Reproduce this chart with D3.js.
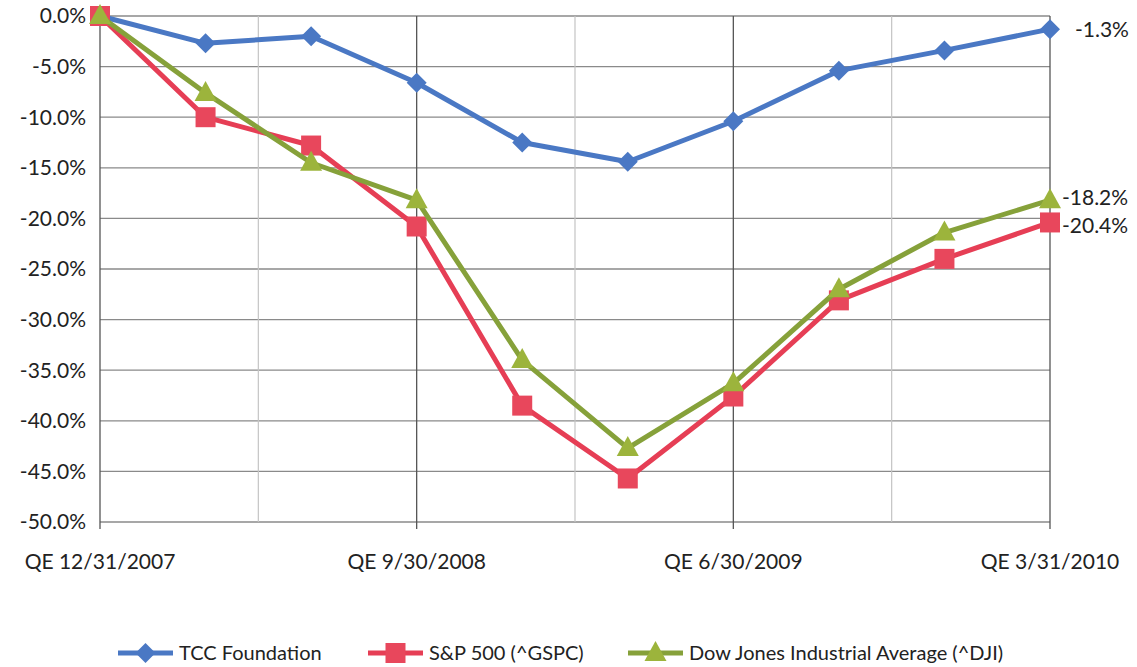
<!DOCTYPE html>
<html>
<head>
<meta charset="utf-8">
<script src="https://cdn.jsdelivr.net/npm/d3@7"></script>
<style>
  body { margin: 0; background: #fff; }
  svg { display: block; font-family: Lato, "Open Sans", sans-serif; }
</style>
</head>
<body>
<svg id="chart"></svg>
<script>
const quarters = ["QE 12/31/2007", "QE 3/31/2008", "QE 6/30/2008", "QE 9/30/2008", "QE 12/31/2008",
  "QE 3/31/2009", "QE 6/30/2009", "QE 9/30/2009", "QE 12/31/2009", "QE 3/31/2010"];
const tccValues = [0, -2.7, -2.0, -6.6, -12.5, -14.4, -10.4, -5.4, -3.4, -1.3];
const spValues  = [0, -10.0, -12.8, -20.8, -38.5, -45.7, -37.6, -28.1, -24.0, -20.4];
const djiValues = [0, -7.6, -14.5, -18.2, -34.0, -42.7, -36.3, -27.0, -21.4, -18.2];
const yTicks = [0, -5, -10, -15, -20, -25, -30, -35, -40, -45, -50];

const width = 1137, height = 667;
const margin = {left: 100, right: 1050, top: 16, bottom: 522};

const series = [
  {name: "TCC Foundation", values: tccValues, color: "#4a78c4", fill: "#4a78c4", marker: "diamond", labelDx: 25, labelDy: 0},
  {name: "S&P 500 (^GSPC)", values: spValues, color: "#e63e55", fill: "#e8475c", marker: "square", labelDx: 12, labelDy: 3},
  {name: "Dow Jones Industrial Average (^DJI)", values: djiValues, color: "#86a13a", fill: "#9cb43c", marker: "triangle", labelDx: 12, labelDy: -3}
];

// plain hyphen minus like the original
const pct = d3.formatLocale({decimal: ".", thousands: ",", grouping: [3], currency: ["", ""], minus: "-"}).format(".1f");

const svg = d3.select("#chart").attr("width", width).attr("height", height);
svg.append("rect").attr("width", width).attr("height", height).attr("fill", "#fff");

const x = d3.scalePoint().domain(quarters).range([margin.left, margin.right]);
const y = d3.scaleLinear().domain([-50, 0]).range([margin.bottom, margin.top]);
const step = x.step();

// horizontal gridlines
svg.append("g").selectAll("line").data(yTicks).join("line")
  .attr("x1", margin.left).attr("x2", margin.right)
  .attr("y1", d => y(d)).attr("y2", d => y(d))
  .attr("stroke", "#8a8a8a").attr("stroke-width", 1.3);

// minor vertical gridlines (midway between labelled ticks)
const majorIdx = quarters.map((q, i) => i).filter(i => i % 3 === 0);
svg.append("g").selectAll("line").data(majorIdx.slice(0, -1)).join("line")
  .attr("x1", i => x(quarters[i]) + step * 1.5).attr("x2", i => x(quarters[i]) + step * 1.5)
  .attr("y1", margin.top).attr("y2", margin.bottom)
  .attr("stroke", "#c4c4c4").attr("stroke-width", 1.2);

// major vertical gridlines with tick marks
svg.append("g").selectAll("line").data(majorIdx).join("line")
  .attr("x1", i => x(quarters[i])).attr("x2", i => x(quarters[i]))
  .attr("y1", margin.top).attr("y2", margin.bottom + 7)
  .attr("stroke", "#555").attr("stroke-width", 1.3);

// y axis labels
svg.append("g").selectAll("text").data(yTicks).join("text")
  .attr("x", 86).attr("y", d => y(d)).attr("dy", "0.35em")
  .attr("text-anchor", "end").attr("font-size", 21).attr("fill", "#222")
  .text(d => pct(d) + "%");

// x axis labels
svg.append("g").selectAll("text").data(majorIdx).join("text")
  .attr("x", i => x(quarters[i])).attr("y", 569)
  .attr("text-anchor", "middle").attr("font-size", 21).attr("fill", "#222")
  .text(i => quarters[i]);

function drawMarker(g, type, cx, cy, fill) {
  if (type === "diamond") {
    g.append("path").attr("d", `M${cx},${cy - 10}L${cx + 10},${cy}L${cx},${cy + 10}L${cx - 10},${cy}Z`).attr("fill", fill);
  } else if (type === "square") {
    g.append("rect").attr("x", cx - 10).attr("y", cy - 10).attr("width", 20).attr("height", 20).attr("fill", fill);
  } else {
    g.append("path").attr("d", `M${cx},${cy - 12}L${cx + 11},${cy + 8}L${cx - 11},${cy + 8}Z`).attr("fill", fill);
  }
}

const line = d3.line().x((d, i) => x(quarters[i])).y(d => y(d));

series.forEach(s => {
  const g = svg.append("g");
  g.append("path").datum(s.values).attr("d", line)
    .attr("fill", "none").attr("stroke", s.color).attr("stroke-width", 5)
    .attr("stroke-linejoin", "round");
  s.values.forEach((v, i) => drawMarker(g, s.marker, x(quarters[i]), y(v), s.fill));
  const last = s.values[s.values.length - 1];
  g.append("text")
    .attr("x", x(quarters[quarters.length - 1]) + s.labelDx).attr("y", y(last) + s.labelDy).attr("dy", "0.35em")
    .attr("font-size", 21).attr("fill", "#222")
    .text(pct(last) + "%");
});

// legend
const legendX = [118, 368, 628];
series.forEach((s, i) => {
  const g = svg.append("g").attr("transform", `translate(${legendX[i]},653)`);
  g.append("line").attr("x1", 0).attr("x2", 55).attr("y1", 0).attr("y2", 0)
    .attr("stroke", s.color).attr("stroke-width", 5);
  drawMarker(g, s.marker, 27.5, 0, s.fill);
  g.append("text").attr("x", 61).attr("y", 0).attr("dy", "0.35em")
    .attr("font-size", 20).attr("fill", "#222").text(s.name);
});
</script>
</body>
</html>
